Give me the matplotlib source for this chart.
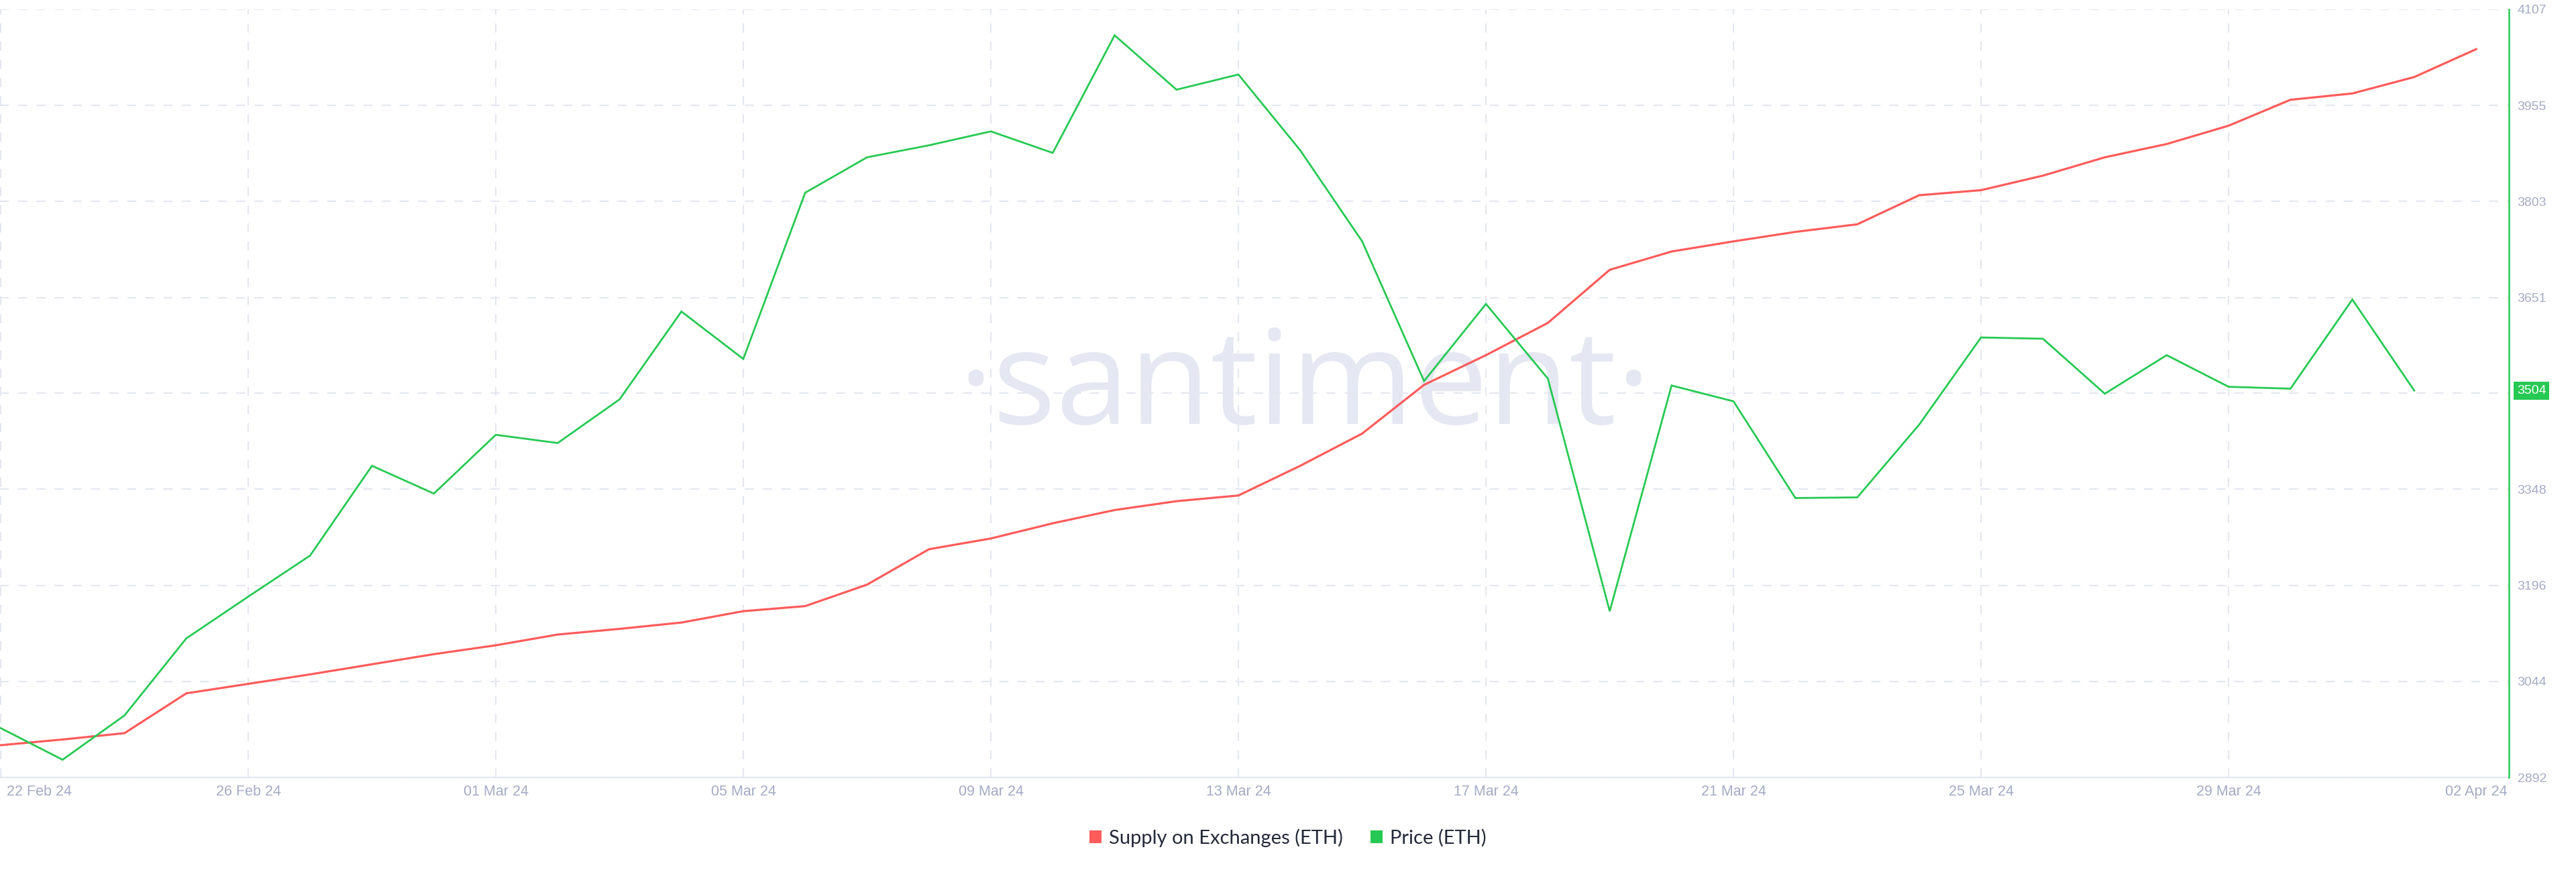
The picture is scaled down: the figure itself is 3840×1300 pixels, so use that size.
import matplotlib
matplotlib.use("Agg")
import matplotlib.pyplot as plt
import matplotlib.dates as mdates
import matplotlib.transforms as mtransforms
from matplotlib.patches import Patch
import pandas as pd
import numpy as np

plt.rcParams["font.family"] = ["Liberation Sans", "DejaVu Sans"]

# ---------------- data ----------------
start_date = "2024-02-22"
price_eth = [2970, 2920, 2990, 3112, 3178, 3243, 3385, 3341, 3434, 3421,
             3490, 3629, 3554, 3817, 3873, 3892, 3914, 3880, 4066, 3980,
             4004, 3884, 3740, 3519, 3641, 3523, 3155, 3512, 3487, 3334,
             3335, 3450, 3588, 3586, 3499, 3560, 3510, 3507, 3648, 3504]
# supply on exchanges (hidden axis; values on the same visual scale as price axis)
supply_on_exchanges = [2943, 2952, 2962, 3025, 3040, 3055, 3071, 3087, 3101, 3118,
                       3127, 3137, 3155, 3163, 3197, 3253, 3270, 3294, 3315, 3329,
                       3338, 3385, 3436, 3513, 3560, 3611, 3695, 3724, 3740, 3755,
                       3767, 3813, 3821, 3844, 3873, 3894, 3923, 3964, 3974, 4000,
                       4044]
x_tick_dates = ["2024-02-22", "2024-02-26", "2024-03-01", "2024-03-05", "2024-03-09",
                "2024-03-13", "2024-03-17", "2024-03-21", "2024-03-25", "2024-03-29",
                "2024-04-02"]
x_tick_labels = ["22 Feb 24", "26 Feb 24", "01 Mar 24", "05 Mar 24", "09 Mar 24",
                 "13 Mar 24", "17 Mar 24", "21 Mar 24", "25 Mar 24", "29 Mar 24",
                 "02 Apr 24"]
y_ticks = [2892, 3044, 3196, 3348, 3500, 3651, 3803, 3955, 4107]
y_tick_labels = ["2892", "3044", "3196", "3348", "", "3651", "3803", "3955", "4107"]
last_price_label = "3504"
legend_labels = ["Supply on Exchanges (ETH)", "Price (ETH)"]

# ---------------- style ----------------
RED = "#ff5b5b"
GREEN = "#26c953"
TICK_C = "#a4abc5"
GRID_C = "#e4e7f0"
W, H = 3840, 1300
DPI = 100

price_dates = pd.date_range(start_date, periods=len(price_eth), freq="D")
supply_dates = pd.date_range(start_date, periods=len(supply_on_exchanges), freq="D")
t0 = mdates.date2num(pd.Timestamp(start_date))

fig = plt.figure(figsize=(W / DPI, H / DPI), dpi=DPI)
fig.patch.set_facecolor("white")

ax_top_px, ax_bot_px, ax_right_px = 14, 1159, 3740
ax = fig.add_axes([0, 1 - ax_bot_px / H, ax_right_px / W, (ax_bot_px - ax_top_px) / H])
axp = ax.twinx()

ax.set_xlim(t0 - 0.011, t0 + 40.53)
ax.set_ylim(y_ticks[0], y_ticks[-1])
axp.set_ylim(y_ticks[0], y_ticks[-1])

# watermark
ax.text(1945 / W, 1 - 632 / H, "\u00b7santiment\u00b7", transform=fig.transFigure,
        ha="center", va="baseline", fontsize=142, family=["Open Sans", "DejaVu Sans"],
        color="#e5e8f2", zorder=0.5)

# grid (on the lower axes)
ax.set_axisbelow(True)
ax.set_yticks(y_ticks)
ax.set_xticks([mdates.date2num(pd.Timestamp(d)) for d in x_tick_dates])
ax.set_xticklabels(x_tick_labels, fontsize=15.5, color=TICK_C)
ax.grid(True, color=GRID_C, linewidth=1.5, linestyle=(0, (6.5, 6.5)))
ax.xaxis.get_gridlines()[-1].set_visible(False)
ax.tick_params(axis="y", left=False, labelleft=False)
ax.tick_params(axis="x", length=0, pad=8)
first = ax.get_xticklabels()[0]
first.set_horizontalalignment("left")
first.set_transform(first.get_transform() + mtransforms.ScaledTranslation(9 / DPI, 0, fig.dpi_scale_trans))

for s in ["top", "left", "right"]:
    ax.spines[s].set_visible(False)
ax.spines["bottom"].set_color("#e3e7f0")
ax.spines["bottom"].set_linewidth(1.6)

# supply line (bottom layer)
ax.plot(supply_dates, supply_on_exchanges, color=RED, linewidth=2.3, zorder=3,
        solid_joinstyle="miter")

# price line (top layer)
axp.plot(price_dates, price_eth, color=GREEN, linewidth=2.0, zorder=3,
         solid_joinstyle="miter")
axp.set_yticks(y_ticks)
axp.set_yticklabels(y_tick_labels, fontsize=14, color=TICK_C)
axp.tick_params(axis="y", length=0, pad=9)
for s in ["top", "left", "bottom"]:
    axp.spines[s].set_visible(False)
axp.spines["right"].set_color(GREEN)
axp.spines["right"].set_linewidth(1.8)

# last value label
trans = mtransforms.blended_transform_factory(axp.transAxes, axp.transData)
trans = mtransforms.offset_copy(trans, fig=fig, x=12, y=0, units="dots")
axp.text(1.0, price_eth[-1], last_price_label, transform=trans, ha="left", va="center",
         fontsize=14, color="white",
         bbox=dict(boxstyle="square,pad=0.25", fc=GREEN, ec="none"), clip_on=False)

# legend
handles = [Patch(facecolor=RED, edgecolor="none"), Patch(facecolor=GREEN, edgecolor="none")]
leg = fig.legend(handles, legend_labels, loc="center", bbox_to_anchor=(0.5, 1 - 1249 / H),
                 ncol=2, frameon=False, handlelength=0.6, handleheight=0.6,
                 handletextpad=0.4, columnspacing=1.4,
                 prop={"family": ["Lato", "DejaVu Sans"], "size": 21})
for t in leg.get_texts():
    t.set_color("#252a3a")

fig.savefig("out.png", dpi=DPI, facecolor="white")
